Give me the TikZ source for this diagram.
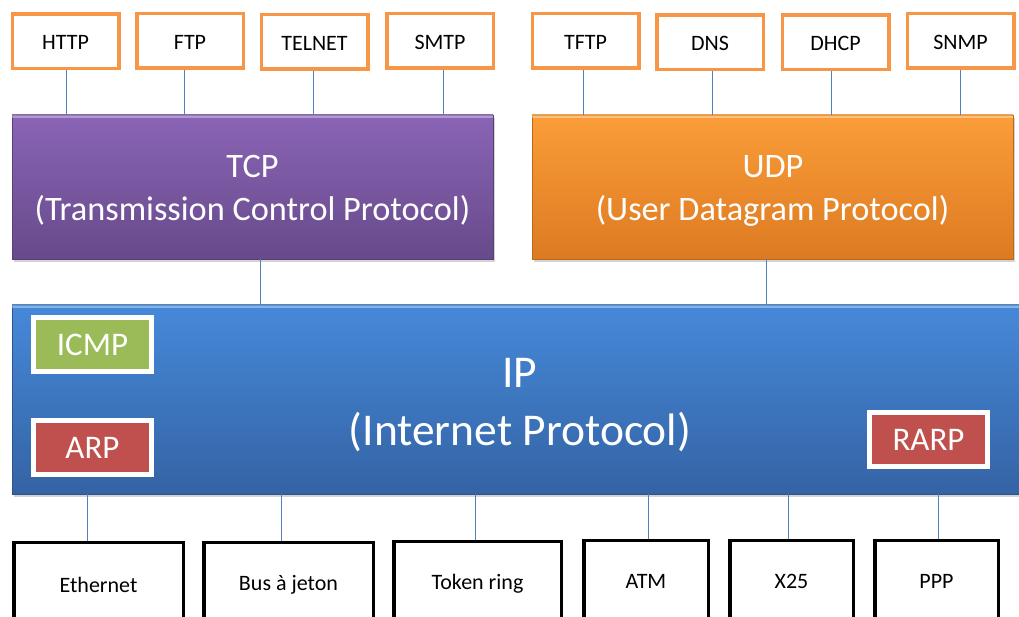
\documentclass[tikz,border=0pt]{standalone}
\usepackage{fontspec}
\setmainfont{Carlito}
\usetikzlibrary{shadows}
\definecolor{orb}{HTML}{F79646}
\definecolor{conn}{HTML}{4F81BD}
\definecolor{tcpT}{HTML}{8A64B6}
\definecolor{tcpB}{HTML}{674A8A}
\definecolor{udpT}{HTML}{FB9D38}
\definecolor{udpB}{HTML}{DC7A22}
\definecolor{ipT}{HTML}{4689D9}
\definecolor{ipB}{HTML}{3463A4}
\definecolor{icmpG}{HTML}{9BBB59}
\definecolor{arpR}{HTML}{C0504D}
\begin{document}
\begin{tikzpicture}[x=1pt,y=-1pt,
  app/.style={draw=orb, line width=3.5pt, fill=white, minimum width=106.5pt, minimum height=54.5pt,
    inner sep=0pt, font=\fontsize{22}{26}\selectfont, text height=17pt, text depth=0pt},
  phy/.style={draw=black, line width=3.5pt, fill=white, minimum height=82.5pt, anchor=north,
    inner sep=0pt, font=\fontsize{22}{26}\selectfont, text height=14pt, text depth=0pt},
  layer/.style={inner sep=0pt, line width=0.6pt,
    drop shadow={shadow xshift=2pt, shadow yshift=-3pt, opacity=.35}},
  ltext/.style={inner sep=0pt, text=white, font=\fontsize{34.3}{40}\selectfont, text height=22pt, text depth=0pt},
  iptext/.style={inner sep=0pt, text=white, font=\fontsize{45.5}{50}\selectfont, text height=29.3pt, text depth=0pt},
  sub/.style={draw=white, line width=5pt, minimum width=118pt, minimum height=54pt, inner sep=0pt,
    text=white, font=\fontsize{33}{40}\selectfont, text height=21.3pt, text depth=0pt,
    drop shadow={shadow xshift=1pt, shadow yshift=-1.5pt, opacity=.3}},
  link/.style={draw=conn, line width=1pt},
  bevel/.style={white, opacity=.35, line width=3pt}
]
\useasboundingbox (0,0) rectangle (1019,617);

% layer boxes
\node[layer, draw=tcpB!85!black, top color=tcpT, bottom color=tcpB, minimum width=481pt, minimum height=144pt] (tcp) at (252.5,187) {};
\node[layer, draw=udpB!85!black, top color=udpT, bottom color=udpB, minimum width=481pt, minimum height=144pt] (udp) at (772.5,187) {};
\node[layer, draw=ipB!85!black, top color=ipT, bottom color=ipB, minimum width=1010pt, minimum height=189pt] (ip) at (517,399.5) {};
\draw[bevel] ([yshift=-2pt]tcp.north west) -- ([yshift=-2pt]tcp.north east);
\draw[bevel] ([yshift=-2pt]udp.north west) -- ([yshift=-2pt]udp.north east);
\draw[bevel] ([yshift=-2pt]ip.north west) -- ([yshift=-2pt]ip.north east);

\node[ltext] (tcp1) at (252.5,167) {TCP};
\node[ltext] (tcp2) at (252.5,210) {(Transmission Control Protocol)};
\node[ltext] (udp1) at (773,167) {UDP};
\node[ltext] (udp2) at (772.5,210) {(User Datagram Protocol)};
\node[iptext] (ip1) at (520,373) {IP};
\node[iptext] (ip2) at (520,431) {(Internet Protocol)};

\node[sub, fill=icmpG] (icmp) at (92.5,344.5) {ICMP};
\node[sub, fill=arpR] (arp) at (92.5,447.5) {ARP};
\node[sub, fill=arpR] (rarp) at (928.5,439.5) {RARP};

% application protocols
\node[app] (http) at (65.5,41.5) {HTTP};
\node[app] (ftp) at (190,41) {FTP};
\node[app] (telnet) at (314.5,42) {TELNET};
\node[app] (smtp) at (440,41) {SMTP};
\node[app] (tftp) at (585.5,41) {TFTP};
\node[app] (dns) at (710,42.5) {DNS};
\node[app] (dhcp) at (835.5,42.5) {DHCP};
\node[app] (snmp) at (960.5,41) {SNMP};

% physical networks
\node[phy, minimum width=169.5pt, text height=18pt] (eth) at (98.5,540.75) {Ethernet};
\node[phy, minimum width=169.5pt] (bus) at (288.5,540.75) {Bus à jeton};
\node[phy, minimum width=167.5pt] (tok) at (477.5,539.75) {Token ring};
\node[phy, minimum width=124.5pt] (atm) at (646,538.75) {ATM};
\node[phy, minimum width=123.5pt] (x25) at (791.5,538.75) {X25};
\node[phy, minimum width=123.5pt] (ppp) at (936.5,538.75) {PPP};

% connectors
\draw[link] (http.south -| 66,0) -- (tcp.north -| 66,0);
\draw[link] (ftp.south -| 184,0) -- (tcp.north -| 184,0);
\draw[link] (telnet.south -| 313,0) -- (tcp.north -| 313,0);
\draw[link] (smtp.south -| 443,0) -- (tcp.north -| 443,0);
\draw[link] (tftp.south -| 583,0) -- (udp.north -| 583,0);
\draw[link] (dns.south -| 712,0) -- (udp.north -| 712,0);
\draw[link] (dhcp.south -| 831,0) -- (udp.north -| 831,0);
\draw[link] (snmp.south -| 960,0) -- (udp.north -| 960,0);
\draw[link] (tcp.south -| 260,0) -- (ip.north -| 260,0);
\draw[link] (udp.south -| 766,0) -- (ip.north -| 766,0);
\draw[link] (ip.south -| 87,0) -- (eth.north -| 87,0);
\draw[link] (ip.south -| 281,0) -- (bus.north -| 281,0);
\draw[link] (ip.south -| 475,0) -- (tok.north -| 475,0);
\draw[link] (ip.south -| 648,0) -- (atm.north -| 648,0);
\draw[link] (ip.south -| 788,0) -- (x25.north -| 788,0);
\draw[link] (ip.south -| 938,0) -- (ppp.north -| 938,0);
\end{tikzpicture}
\end{document}
